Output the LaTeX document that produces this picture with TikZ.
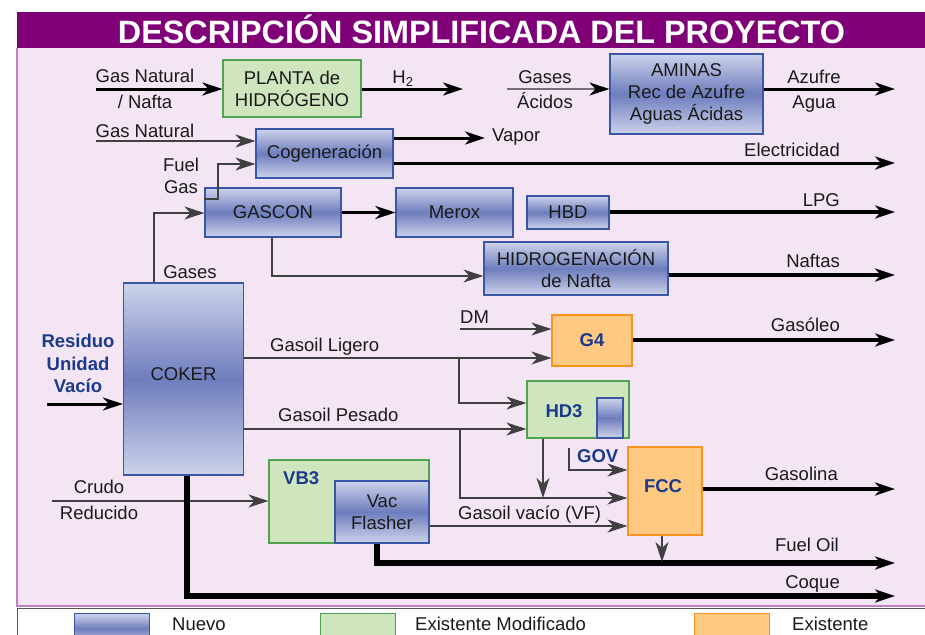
\documentclass[tikz,border=0pt]{standalone}
\usepackage{fontspec}
\usepackage{graphicx}
\setmainfont{Liberation Sans}
\usetikzlibrary{arrows.meta,calc}
\definecolor{hdr}{HTML}{800078}
\definecolor{bgpink}{HTML}{F3E5F3}
\definecolor{pinkline}{HTML}{C27FC2}
\definecolor{bluetop}{HTML}{CDD3EB}
\definecolor{bluemid}{HTML}{6E7DBD}
\definecolor{blueline}{HTML}{3B56A6}
\definecolor{greenfill}{HTML}{CFE5BE}
\definecolor{greenline}{HTML}{4FA24F}
\definecolor{orangefill}{HTML}{FFC982}
\definecolor{orangeline}{HTML}{F7941D}
\definecolor{darkblue}{HTML}{1B3A8C}
\definecolor{txt}{HTML}{1A1A1A}
\definecolor{thinline}{HTML}{404040}
\definecolor{greyline}{HTML}{777077}
\definecolor{legline}{HTML}{555555}
\begin{document}
\begin{tikzpicture}[x=1pt,y=-1pt,
 every node/.style={text=txt},
 basetxt/.style={font=\fontsize{18.5}{22}\selectfont, align=center, inner sep=0pt},
 wh/.style 2 args={minimum width=#1, minimum height=#2},
 bluebox/.style={basetxt, draw=blueline, line width=1.2pt, top color=bluetop, bottom color=bluetop, middle color=bluemid},
 greenbox/.style={basetxt, draw=greenline, line width=1.2pt, fill=greenfill},
 orangebox/.style={basetxt, draw=orangeline, line width=1.2pt, fill=orangefill},
 lbl/.style={font=\fontsize{18.5}{22}\selectfont, inner sep=0pt, text height=13.3pt, text depth=0pt},
 blbl/.style={lbl, font=\fontsize{18.5}{22}\selectfont\bfseries, text=darkblue},
 tip/.style={-{Stealth[length=20pt,width=13pt,inset=6pt]}},
 blacktip/.style={-{Stealth[length=20pt,width=13pt,inset=6pt,color=black]}},
 lthin/.style={draw=thinline, line width=1.3pt},
 lmed/.style={draw=black, line width=3pt},
 lthick/.style={draw=black, line width=4.5pt},
 lheavy/.style={draw=black, line width=5.5pt}
]
\useasboundingbox (0,0) rectangle (925,634);
\clip (0,0) rectangle (925,634);
% background
\fill[white] (0,0) rectangle (925,634);
\fill[bgpink] (17,48) rectangle (925,606);
\draw[pinkline, line width=1.5pt] (17,48) -- (17,606) -- (925,606);
\fill[hdr] (17,12) rectangle (925,48);
\draw[legline, line width=1pt] (17,640) -- (17,608.5) -- (925,608.5);
\node[anchor=base, inner sep=0pt, text=white, font=\bfseries] (title) at (481.5,43)
  {\resizebox{727pt}{!}{DESCRIPCIÓN SIMPLIFICADA DEL PROYECTO}};

% boxes
\node[greenbox, wh={138pt}{57pt}] (plant) at (292,88.5) {PLANTA de\\HIDRÓGENO};
\node[bluebox, wh={153pt}{80pt}] (aminas) at (686.5,94) {AMINAS\\Rec de Azufre\\Aguas Ácidas};
\node[bluebox, wh={137pt}{49pt}] (cogen) at (324.5,153.5) {Cogeneración};
\node[bluebox, wh={136pt}{49pt}] (gascon) at (273,212.5) {GASCON};
\node[bluebox, wh={117pt}{49pt}] (merox) at (454.5,212.5) {Merox};
\node[bluebox, wh={82pt}{33pt}] (hbd) at (568,212.5) {HBD};
\node[bluebox, wh={184pt}{53pt}] (hidro) at (576,268.5) {HIDROGENACIÓN\\de Nafta};
\node[bluebox, wh={120pt}{192pt}] (coker) at (183.5,379) {};
\node[basetxt] (cokerlbl) at (183.5,374) {COKER};
\node[orangebox, wh={80pt}{51pt}, font=\fontsize{18.5}{22}\selectfont\bfseries, text=darkblue] (g4) at (592,340.5) {G4};
\node[greenbox, wh={102pt}{57pt}] (hd3) at (578,409.5) {};
\node[bluebox, wh={26pt}{40pt}] (hd3s) at (610,418) {};
\node[blbl] (hd3lbl) at (564,411) {HD3};
\node[orangebox, wh={74pt}{88pt}] (fcc) at (665,491) {};
\node[blbl] (fcclbl) at (663,486) {FCC};
\node[greenbox, wh={160pt}{83pt}] (vb3) at (349,501.5) {};
\node[blbl, anchor=west] (vb3lbl) at (283,478) {VB3};
\node[bluebox, wh={94pt}{62pt}] (vac) at (382,512) {Vac\\Flasher};

% free ends
\coordinate (gn1) at (96,89);
\coordinate (h2end) at (463,89);
\coordinate (gasac) at (507,89);
\coordinate (azend) at (895,89);
\coordinate (gn2) at (96,141);
\coordinate (fg1) at (218,199);
\coordinate (fg2) at (218,164);
\coordinate (vapend) at (485,138);
\coordinate (elec) at (895,163);
\coordinate (lpgend) at (895,212);
\coordinate (hid1) at (272,276);
\coordinate (naftend) at (895,275);
\coordinate (gas1) at (154,213);
\coordinate (res1) at (47,404);
\coordinate (gl) at (459,358);
\coordinate (gl2) at (459,403);
\coordinate (dm) at (460,329);
\coordinate (gsoend) at (895,340);
\coordinate (gp) at (460,429);
\coordinate (gp2) at (460,498);
\coordinate (hd3d) at (543,498);
\coordinate (gov1) at (569,448);
\coordinate (gov2) at (569,470);
\coordinate (gsl) at (895,489);
\coordinate (gv) at (628,526);
\coordinate (fcd) at (662,562);
\coordinate (fo1) at (377,563);
\coordinate (foend) at (895,563);
\coordinate (co1) at (187,596);
\coordinate (coend) at (895,596);
\coordinate (cr1) at (52,501);

% connectors
\draw[lmed,tip] (gn1) -- (plant.west |- gn1);
\draw[lmed,tip] (plant.east |- h2end) -- (h2end);
\draw[draw=greyline,line width=2pt,blacktip] (gasac) -- (aminas.west |- gasac);
\draw[lmed,tip] (aminas.east |- azend) -- (azend);
\draw[lthin,tip] (gn2) -- (cogen.west |- gn2);
\draw[lthin,tip] (gascon.west |- fg1) -- (fg1) -- (fg2) -- (cogen.west |- fg2);
\draw[lmed,tip] (cogen.east |- vapend) -- (vapend);
\draw[lmed,tip] (cogen.east |- elec) -- (elec);
\draw[lmed,tip] (gascon.east) -- (merox.west);
\draw[lthick,tip] (hbd.east |- lpgend) -- (lpgend);
\draw[lthin,tip] (gascon.south -| hid1) -- (hid1) -- (hidro.west |- hid1);
\draw[lthick,tip] (hidro.east |- naftend) -- (naftend);
\draw[lthin,tip] (coker.north -| gas1) -- (gas1) -- (gascon.west |- gas1);
\draw[lmed,tip] (res1) -- (coker.west |- res1);
\draw[lthin,tip] (coker.east |- gl) -- (g4.west |- gl);
\draw[lthin,tip] (gl) -- (gl2) -- (hd3.west |- gl2);
\draw[lthin,tip] (dm) -- (g4.west |- dm);
\draw[lthick,tip] (g4.east |- gsoend) -- (gsoend);
\draw[lthin,tip] (coker.east |- gp) -- (hd3.west |- gp);
\draw[lthin,tip] (gp) -- (gp2) -- (fcc.west |- gp2);
\draw[lthin,tip] (hd3.south -| hd3d) -- (hd3d);
\draw[lthin,tip] (gov1) -- (gov2) -- (fcc.west |- gov2);
\draw[lthick,tip] (fcc.east |- gsl) -- (gsl);
\draw[lthin,tip] (vac.east |- gv) -- (fcc.west |- gv);
\draw[lthin,tip] (cr1) -- (vb3.west |- cr1);
\draw[lheavy,tip] (vac.south -| fo1) -- (fo1) -- (foend);
\draw[lheavy,tip] (coker.south -| co1) -- (co1) -- (coend);
\draw[lthin,tip] (fcc.south -| fcd) -- (fcd);

% labels
\node[lbl] (l1) at (145,76) {Gas Natural};
\node[lbl] (l2) at (145,102) {/ Nafta};
\node[lbl] (l3) at (403,77) {H\textsubscript{2}};
\node[lbl] (l4) at (545,77) {Gases};
\node[lbl] (l5) at (545,102) {Ácidos};
\node[lbl] (l6) at (814,77) {Azufre};
\node[lbl] (l7) at (814,102) {Agua};
\node[lbl] (l8) at (145,131) {Gas Natural};
\node[lbl] (l9) at (181,165) {Fuel};
\node[lbl] (l10) at (181,187) {Gas};
\node[lbl, anchor=west] (l11) at (492,135) {Vapor};
\node[lbl, anchor=east] (l12) at (840,150) {Electricidad};
\node[lbl, anchor=east] (l13) at (840,200) {LPG};
\node[lbl, anchor=east] (l14) at (840,261) {Naftas};
\node[lbl] (l15) at (190,272) {Gases};
\node[blbl] (l16) at (78,341) {Residuo};
\node[blbl] (l17) at (78,364) {Unidad};
\node[blbl] (l18) at (78,386) {Vacío};
\node[lbl, anchor=west] (l19) at (270,345) {Gasoil Ligero};
\node[lbl, anchor=west] (l20) at (460,317) {DM};
\node[lbl, anchor=east] (l21) at (840,325) {Gasóleo};
\node[lbl, anchor=west] (l22) at (278,415) {Gasoil Pesado};
\node[blbl, anchor=west] (l23) at (577,456) {GOV};
\node[lbl, anchor=east] (l24) at (838,474) {Gasolina};
\node[lbl, anchor=west] (l25) at (458,513) {Gasoil vacío (VF)};
\node[lbl, anchor=east] (l26) at (839,545) {Fuel Oil};
\node[lbl, anchor=east] (l27) at (840,582) {Coque};
\node[lbl] (l28) at (99,487) {Crudo};
\node[lbl] (l29) at (99,513) {Reducido};

% legend
\node[bluebox, wh={75pt}{30pt}, anchor=north west] (legn) at (74,613) {};
\node[lbl, anchor=west] (legnt) at (172,623.5) {Nuevo};
\node[greenbox, wh={75pt}{30pt}, anchor=north west] (legm) at (320,613) {};
\node[lbl, anchor=west] (legmt) at (415,623.5) {Existente Modificado};
\node[orangebox, wh={75pt}{30pt}, anchor=north west] (lege) at (694,613) {};
\node[lbl, anchor=west] (leget) at (792,623.5) {Existente};
\end{tikzpicture}
\end{document}
